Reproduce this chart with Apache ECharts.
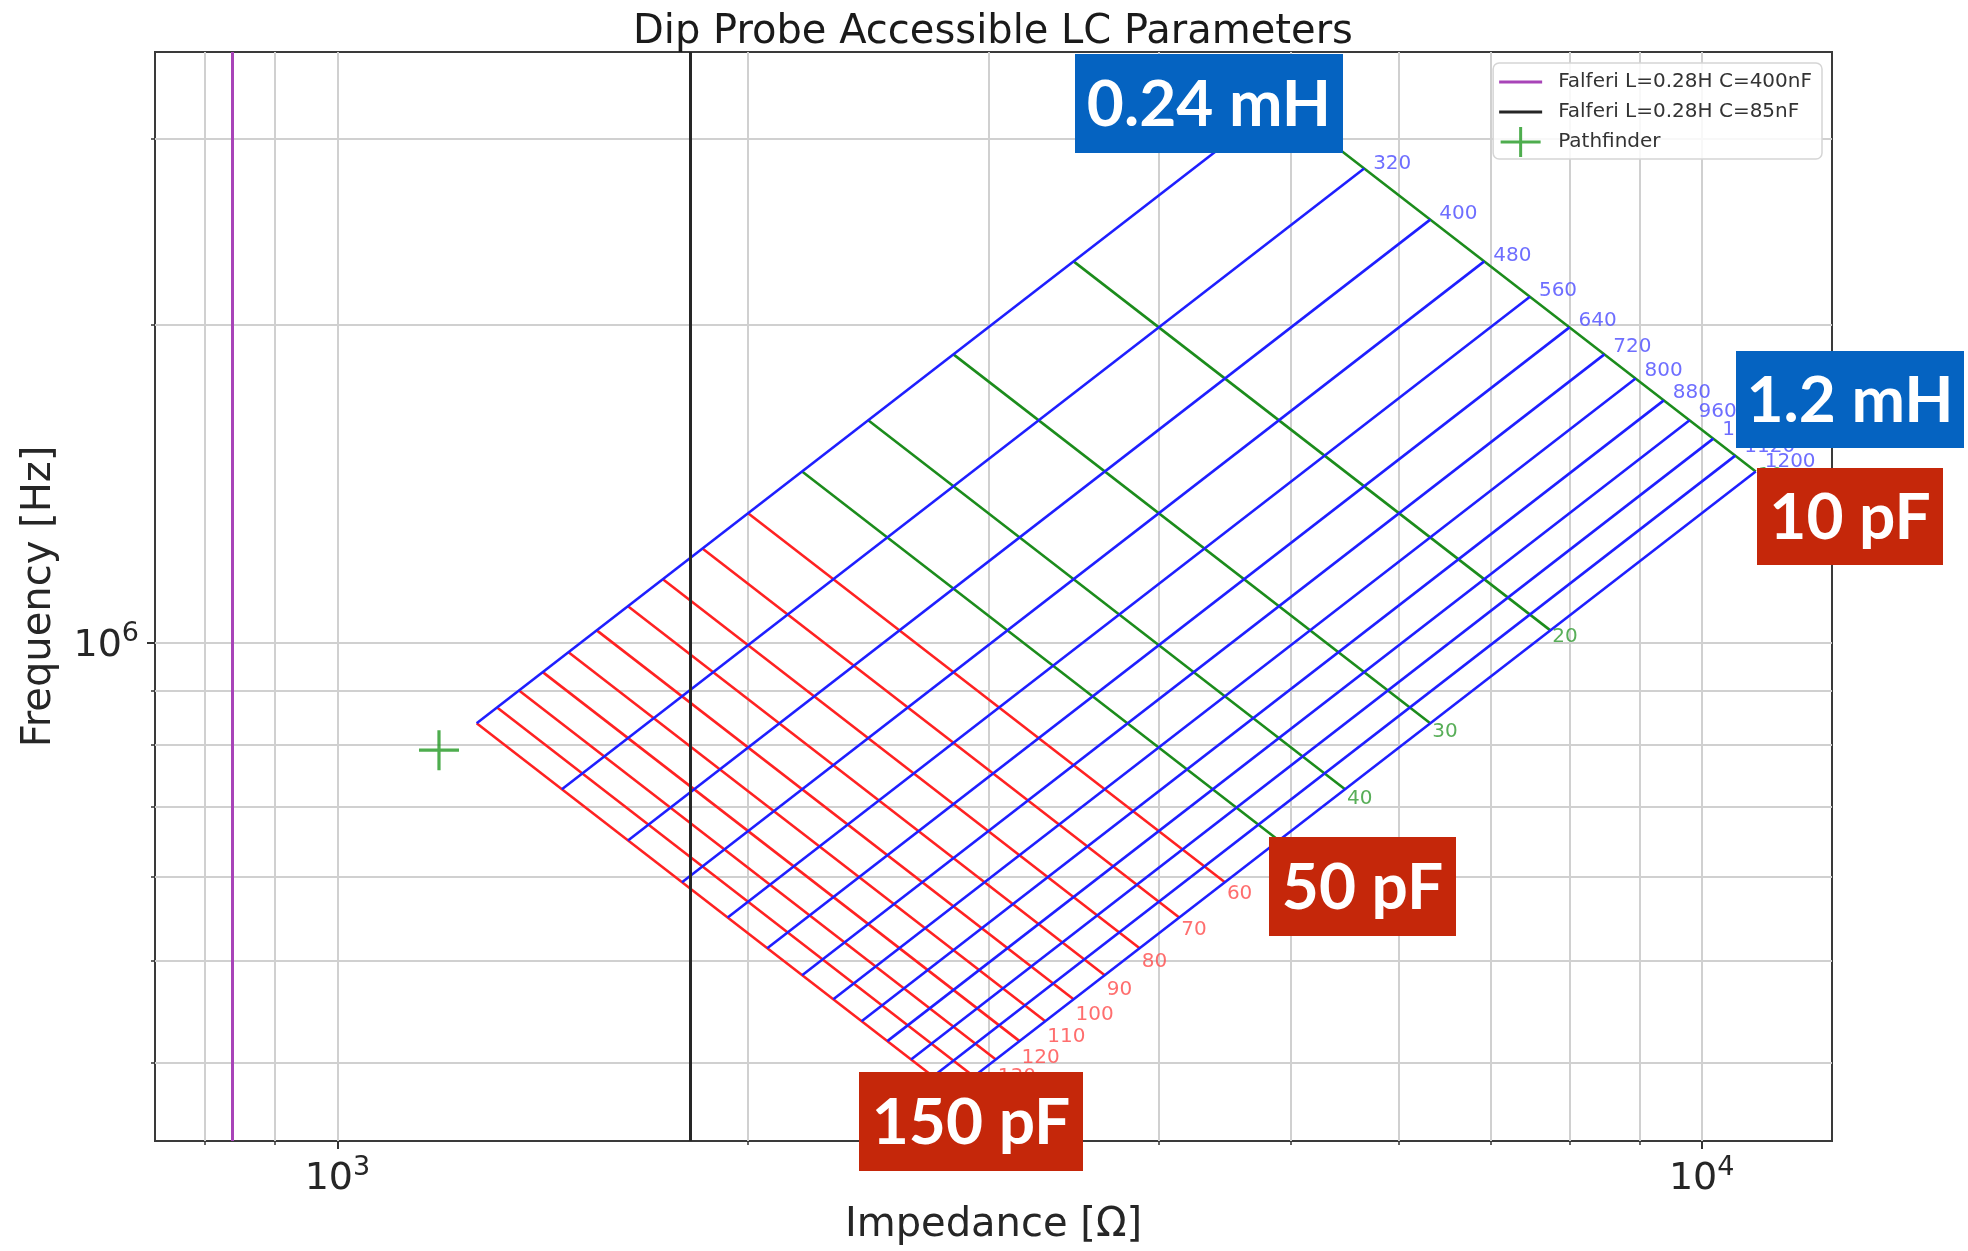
<!DOCTYPE html>
<html>
<head>
<meta charset="utf-8">
<script src="https://cdn.jsdelivr.net/npm/echarts@6/dist/echarts.min.js"></script>
<style>
  html, body { margin: 0; padding: 0; background: #ffffff; }
  #chart { width: 1968px; height: 1251px; }
</style>
</head>
<body>
<div id="chart"></div>
<script>
// ---------------- data ----------------
const inductancesUH = [240, 320, 400, 480, 560, 640, 720, 800, 880, 960, 1040, 1120, 1200];
const capacitancesGreenPF = [10, 20, 30, 40, 50];
const capacitancesRedPF = [60, 70, 80, 90, 100, 110, 120, 130, 140, 150];
const falferiInductanceH = 0.28;
const falferiCapacitancesNF = [400, 85];
const pathfinderImpedance = [1187];
const pathfinderFrequency = [791000];
const xMajorTicks = [1000, 10000];
const xMinorTicks = [800, 900, 2000, 3000, 4000, 5000, 6000, 7000, 8000, 9000];
const yMajorTicks = [1e6];
const yMinorTicks = [4e5, 5e5, 6e5, 7e5, 8e5, 9e5, 2e6, 3e6];

// ---------------- styling ----------------
const FONT = 'DejaVu Sans';
const BLUE = '#1f1fff', RED = '#ff2222', GREEN = '#1c8c1c';
const PURPLE = '#a844b8', BLACK = '#262626', MARK_GREEN = '#229922';
const BOX_BLUE = '#0563c1', BOX_RED = '#c5270a';
const X_RANGE = [735, 12460];
const Y_RANGE = [337300, 3627000];
const PLUS = 'path://M18.4,0 L21.6,0 L21.6,18.4 L40,18.4 L40,21.6 L21.6,21.6 L21.6,40 L18.4,40 L18.4,21.6 L0,21.6 L0,18.4 L18.4,18.4 Z';
const LEGEND_PLUS = 'path://M18.5,0 L21.5,0 L21.5,13.5 L40,13.5 L40,16.5 L21.5,16.5 L21.5,30 L18.5,30 L18.5,16.5 L0,16.5 L0,13.5 L18.5,13.5 Z';
const LEGEND_LINE = 'path://M0,0 L43,0 L43,3 L0,3 Z';

// LC resonance: impedance sqrt(L/C), frequency 1/(2*pi*sqrt(LC))
function lcPoint(lUH, cPF) {
  const L = lUH * 1e-6, C = cPF * 1e-12;
  return [Math.sqrt(L / C), 1 / (2 * Math.PI * Math.sqrt(L * C))];
}
const allCaps = capacitancesGreenPF.concat(capacitancesRedPF);
const cMin = Math.min.apply(null, allCaps), cMax = Math.max.apply(null, allCaps);
const lMin = Math.min.apply(null, inductancesUH), lMax = Math.max.apply(null, inductancesUH);

const series = [];
function capLine(c, color) {
  series.push({
    type: 'line', data: [lcPoint(lMin, c), lcPoint(lMax, c)], symbol: 'none', silent: true,
    lineStyle: { color: color, width: 2.6 }, z: 2
  });
}
capacitancesGreenPF.forEach(c => capLine(c, GREEN));
capacitancesRedPF.forEach(c => capLine(c, RED));
inductancesUH.forEach(l => {
  series.push({
    type: 'line', data: [lcPoint(l, cMax), lcPoint(l, cMin)], symbol: 'none', silent: true,
    lineStyle: { color: BLUE, width: 2.6 }, z: 3
  });
});

const LABEL_SHIFT_UP_HZ = 30000, LABEL_SHIFT_DOWN_HZ = 15000;
function labelSeries(items, color, offsetX) {
  return {
    type: 'scatter', silent: true, symbolSize: 0, data: items, z: 4,
    itemStyle: { color: 'transparent' },
    label: {
      show: true, position: 'right', distance: 0, offset: [offsetX, 0],
      formatter: '{b}', color: color, fontSize: 20, fontFamily: FONT
    }
  };
}
series.push(labelSeries(inductancesUH.map(l => {
  const p = lcPoint(l, cMin); return { name: String(l), value: [p[0], p[1] + LABEL_SHIFT_UP_HZ] };
}), '#4a4aff', 9));
series.push(labelSeries(capacitancesGreenPF.map(c => {
  const p = lcPoint(lMax, c); return { name: String(c), value: [p[0], p[1] - LABEL_SHIFT_DOWN_HZ] };
}), '#2e9a2e', 2));
series.push(labelSeries(capacitancesRedPF.map(c => {
  const p = lcPoint(lMax, c); return { name: String(c), value: [p[0], p[1] - LABEL_SHIFT_DOWN_HZ] };
}), '#ff4a4a', 2));

const legendData = [];
const falferiColors = [PURPLE, BLACK];
falferiCapacitancesNF.forEach((cNF, i) => {
  const name = 'Falferi L=' + falferiInductanceH + 'H C=' + cNF + 'nF';
  legendData.push({ name: name, icon: LEGEND_LINE, itemStyle: { color: falferiColors[i] } });
  const z = Math.sqrt(falferiInductanceH / (cNF * 1e-9));
  series.push({
    type: 'line', name: name, data: [], symbol: 'none',
    lineStyle: { color: falferiColors[i], width: 3 },
    itemStyle: { color: falferiColors[i] },
    markLine: {
      silent: true, symbol: ['none', 'none'], animation: false,
      label: { show: false },
      lineStyle: { color: falferiColors[i], width: 3, type: 'solid' },
      emphasis: { disabled: true },
      data: [{ xAxis: z }]
    }
  });
});
legendData.push({ name: 'Pathfinder', icon: LEGEND_PLUS, itemStyle: { color: MARK_GREEN } });
series.push({
  type: 'scatter', name: 'Pathfinder', symbol: PLUS, symbolSize: 40,
  itemStyle: { color: MARK_GREEN }, z: 5,
  data: pathfinderImpedance.map((z, i) => [z, pathfinderFrequency[i]])
});

function supFormatter(v) {
  return '{b|10}{s|' + Math.round(Math.log10(v)) + '}';
}
const richSup = {
  b: { fontSize: 38, fontFamily: FONT, color: '#262626', lineHeight: 44, verticalAlign: 'bottom' },
  s: { fontSize: 27, fontFamily: FONT, color: '#262626', lineHeight: 26, verticalAlign: 'top' }
};
const gridLine = { show: true, lineStyle: { color: '#d0d0d0', width: 2 } };

function axisPair(dim) {
  const major = dim === 'x' ? xMajorTicks : yMajorTicks;
  const minor = dim === 'x' ? xMinorTicks : yMinorTicks;
  const range = dim === 'x' ? X_RANGE : Y_RANGE;
  const pos = dim === 'x' ? 'bottom' : 'left';
  const main = {
    type: 'log', logBase: 10, min: range[0], max: range[1], position: pos,
    axisLine: { show: false },
    axisTick: { show: true, customValues: major, length: 8, lineStyle: { color: '#333', width: 2 } },
    axisLabel: { show: true, customValues: major, formatter: supFormatter, rich: richSup,
                 margin: dim === 'x' ? 13 : 16 },
    splitLine: gridLine,
    name: dim === 'x' ? 'Impedance [Ω]' : 'Frequency [Hz]',
    nameLocation: 'middle', nameGap: dim === 'x' ? 65 : 95,
    nameTextStyle: { fontSize: 40, fontFamily: FONT, color: '#262626' }
  };
  const sub = {
    type: 'log', logBase: 10, min: range[0], max: range[1], position: pos,
    axisLine: { show: false },
    axisTick: { show: true, customValues: minor, length: 4, lineStyle: { color: '#333', width: 1.5 } },
    axisLabel: { show: false },
    splitLine: gridLine
  };
  return [main, sub];
}

function box(text, color, x, y, w, h) {
  return {
    type: 'group', x: x, y: y, z: 100,
    children: [
      { type: 'rect', shape: { x: 0, y: 0, width: w, height: h }, style: { fill: color }, z: 100 },
      { type: 'text', x: w / 2, y: h / 2 + 2, z: 101,
        style: { text: text, fill: '#ffffff', font: 'bold 64px Lato', align: 'center', verticalAlign: 'middle' } }
    ]
  };
}

const chart = echarts.init(document.getElementById('chart'), null, { renderer: 'canvas' });
chart.setOption({
  animation: false,
  backgroundColor: '#ffffff',
  textStyle: { fontFamily: FONT },
  title: {
    text: 'Dip Probe Accessible LC Parameters', left: 633, top: 13,
    padding: 0,
    textStyle: { fontSize: 40, fontWeight: 'normal', fontFamily: FONT, color: '#1a1a1a' }
  },
  grid: { left: 155, right: 136, top: 52, bottom: 110, show: true, borderColor: '#3a3a3a', borderWidth: 2,
          backgroundColor: 'transparent' },
  xAxis: axisPair('x'),
  yAxis: axisPair('y'),
  legend: {
    data: legendData, orient: 'vertical', right: 146, top: 63,
    itemWidth: 43, itemHeight: 30, itemGap: 0,
    padding: [4, 10, 2, 6], selectedMode: false,
    backgroundColor: 'rgba(255,255,255,0.85)', borderColor: '#d5d5d5', borderWidth: 1.5, borderRadius: 6,
    textStyle: { fontSize: 20, lineHeight: 30, fontFamily: FONT, color: '#333333', padding: [0, 0, 0, 11] }
  },
  series: series,
  graphic: [
    box('0.24 mH', BOX_BLUE, 1075, 54, 268, 99),
    box('1.2 mH', BOX_BLUE, 1736, 351, 228, 97),
    box('10 pF', BOX_RED, 1757, 468, 186, 97),
    box('50 pF', BOX_RED, 1269, 837, 187, 99),
    box('150 pF', BOX_RED, 859, 1072, 224, 99)
  ]
});
</script>
</body>
</html>
